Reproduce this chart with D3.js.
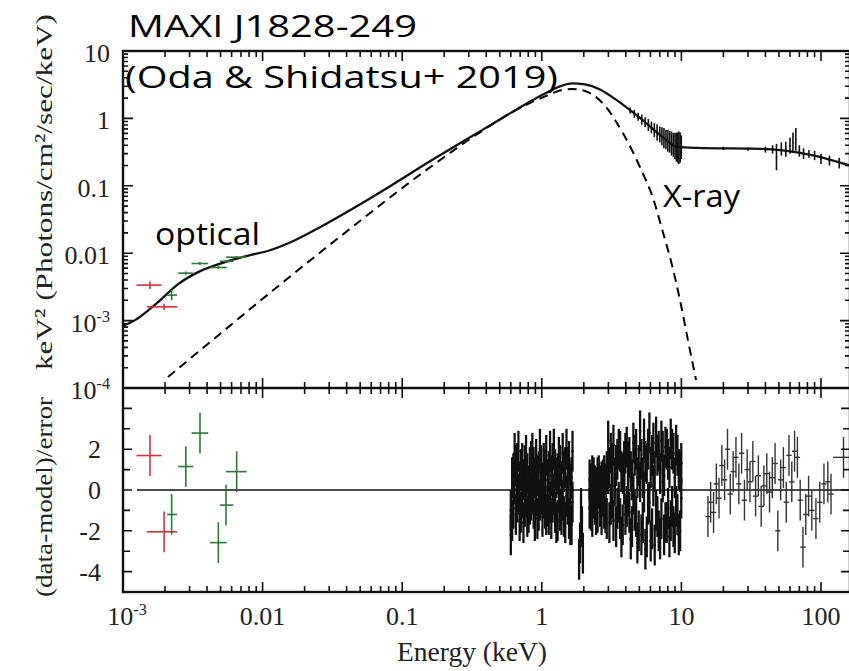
<!DOCTYPE html>
<html><head><meta charset="utf-8">
<script src="https://cdn.jsdelivr.net/npm/d3@7"></script>
<style>body{margin:0;background:#fff}#wrap{position:relative;width:849px;height:671px}svg{display:block;position:absolute;left:0;top:0}</style>
</head><body>
<div id="wrap"><svg id="c" width="849" height="671"></svg><svg id="ov" width="849" height="671"></svg></div>
<script>
// ---------------- DATA ----------------
const modelE = [1.000e-3,1.219e-3,1.782e-3,2.483e-3,3.451e-3,5.383e-3,8.128e-3,0.01130,0.01706,0.02576,0.04227,0.08185,0.1581,0.3062,0.5012,0.7586,1.054,1.349,1.644,2.037,2.612,3.459,5.309,7.379,9.290,12.94,38.46,87.70,158.9];
const modelF = [8.30e-4,1.016e-3,1.879e-3,3.475e-3,5.236e-3,7.362e-3,9.333e-3,0.01107,0.01560,0.02427,0.04335,0.09840,0.2307,0.5236,0.9661,1.611,2.344,2.979,3.304,3.192,2.692,1.849,0.9333,0.5236,0.3784,0.3656,0.3532,0.2831,0.2014];
const diskE = [2.099e-3,0.03581,0.1581,0.3606,0.6982,1.054,1.349,1.644,2.037,2.742,3.819,5.047,6.266,7.379,8.570,9.772,11.14,12.74];
const diskF = [1.455e-4,0.01754,0.1879,0.6209,1.432,2.118,2.600,2.735,2.553,1.667,0.5998,0.1901,0.06531,0.02046,6.637e-3,2.014e-3,5.140e-4,1.315e-4];
const redE = [1.56e-3,1.97e-3];
const redElo = [1.25e-3,1.48e-3];
const redEhi = [1.89e-3,2.45e-3];
const redF = [3.36e-3,1.60e-3];
const redFlo = [2.95e-3,1.44e-3];
const redFhi = [3.80e-3,1.78e-3];
const redRes = [1.69,-2.05];
const grnE = [2.23e-3,2.82e-3,3.56e-3,4.82e-3,5.47e-3,6.52e-3];
const grnElo = [2.07e-3,2.48e-3,3.10e-3,4.20e-3,4.95e-3,5.47e-3];
const grnEhi = [2.44e-3,3.19e-3,4.08e-3,5.53e-3,6.17e-3,7.69e-3];
const grnF = [2.39e-3,5.06e-3,7.03e-3,6.14e-3,7.60e-3,8.73e-3];
const grnFlo = [2.0e-3,4.8e-3,6.7e-3,5.85e-3,7.3e-3,8.4e-3];
const grnFhi = [2.85e-3,5.35e-3,7.4e-3,6.45e-3,7.9e-3,9.1e-3];
const grnRes = [-1.2,1.15,2.79,-2.58,-0.74,0.9];
const hxE  = [4.3,4.6,4.9,5.2,5.5,5.8,6.1,6.4,6.7,7.0,7.25,7.5,7.75,8.0,8.25,8.5,8.75,9.0,9.2,9.4,9.6,9.8,9.98,20,30,40,45,48,52,56,60,63,66,70,75,82,90,100,115,135];
const hxLo = [1.18,1.02,0.92,0.81,0.74,0.65,0.60,0.53,0.47,0.44,0.40,0.36,0.35,0.32,0.31,0.28,0.27,0.25,0.23,0.22,0.21,0.22,0.25,0.34,0.33,0.31,0.30,0.17,0.28,0.27,0.30,0.31,0.33,0.27,0.25,0.26,0.24,0.21,0.20,0.18];
const hxHi = [1.45,1.34,1.21,1.14,1.04,0.98,0.90,0.85,0.82,0.76,0.74,0.72,0.68,0.68,0.65,0.64,0.61,0.61,0.61,0.62,0.64,0.62,0.56,0.38,0.37,0.38,0.40,0.42,0.44,0.45,0.52,0.62,0.72,0.40,0.36,0.34,0.33,0.30,0.28,0.26];
const s1E = [0.600,0.613,0.626,0.639,0.652,0.666,0.680,0.694,0.709,0.724,0.739,0.755,0.771,0.787,0.804,0.821,0.838,0.856,0.874,0.892,0.911,0.930,0.950,0.970,0.990,1.011,1.032,1.054,1.076,1.099,1.122,1.146,1.170,1.195,1.220,1.246,1.272,1.299,1.326,1.354,1.383,1.412,1.442,1.472,1.503,1.535,1.567,1.600,1.634,1.660];
const s1A = [-2.2,-1.5,0.8,1.8,1.2,-0.6,1.9,0.4,-1.1,1.3,0.5,-0.8,1.7,-1.3,0.2,1.1,-0.5,1.8,-0.9,0.6,1.5,-1.4,0.9,2.0,-0.2,0.3,1.3,-0.9,1.7,0.5,-1.2,1.9,0.7,-0.6,2.0,1.0,-1.6,0.8,1.6,-1.0,0.4,1.8,-1.3,1.1,2.0,-0.7,1.4,-1.7,0.6,1.9];
const s1B = [-1.0,0.6,-0.9,0.3,-1.2,1.3,-0.2,-1.5,1.0,-0.4,-1.6,1.2,-0.3,0.8,-1.1,-0.7,1.4,-0.2,1.1,-1.5,-0.3,0.7,-1.0,-0.5,1.2,-1.3,-0.4,1.0,-1.2,-0.8,0.9,-0.6,-1.4,1.3,-0.2,-1.1,0.6,-1.5,-0.1,1.2,-1.2,-0.5,0.9,-1.6,-0.3,1.1,-1.4,0.3,-1.7,-0.6];
const s2E = [1.85,1.88,1.91,1.94,1.97];
const s2R = [-3.4,-2.6,-0.9,-1.8,-3.1];
const s3E = [2.20,2.25,2.30,2.35,2.40,2.45,2.51,2.56,2.62,2.68,2.74,2.80,2.86,2.92,2.99,3.05,3.12,3.19,3.26,3.33,3.41,3.48,3.56,3.64,3.72,3.80,3.89,3.97,4.06,4.15,4.24,4.34,4.43,4.53,4.63,4.74,4.84,4.95,5.06,5.17,5.29,5.40,5.52,5.65,5.77,5.90,6.03,6.17,6.30,6.44,6.59,6.73,6.88,7.04,7.19,7.35,7.52,7.69,7.86,8.03,8.21,8.39,8.58,8.77,8.97,9.17,9.37,9.58,9.79,9.98];
const s3A = [0.5,-1.0,0.7,-0.4,0.2,-1.2,0.6,0.1,-0.8,0.4,-0.3,0.7,-1.1,0.9,2.4,-1.6,1.8,-0.4,2.2,0.6,-1.8,1.5,-0.6,1.9,-2.3,0.8,1.4,-1.2,2.1,-0.3,1.6,-2.4,0.5,2.3,-1.0,2.0,-2.6,1.2,2.9,-2.2,0.6,2.5,-2.9,1.3,-0.7,2.8,-2.5,1.7,0.2,-2.7,2.6,-1.3,1.9,-2.4,2.4,0.4,-2.2,2.1,-1.6,1.5,-2.3,2.5,-0.8,1.8,-2.1,2.2,-1.2,1.0,-2.0,1.3];
const s3B = [-0.9,0.3,-1.3,0.6,-0.7,0.1,-1.1,0.7,0.2,-1.2,0.5,-0.9,0.3,-1.4,0.8,1.1,-0.7,1.3,-1.5,0.2,1.2,-0.9,2.0,-1.4,0.9,-1.7,0.3,1.8,-0.8,1.4,-1.1,0.9,-1.8,-0.2,1.7,-1.3,0.6,-2.0,0.4,1.5,-1.6,-0.1,1.4,-2.3,2.0,-0.6,1.1,-1.9,2.3,0.9,-1.0,1.7,-2.0,0.8,-1.4,1.9,0.7,-1.6,2.0,-0.9,1.1,-1.5,2.0,-1.8,0.6,-0.8,1.7,-2.2,0.9,-0.4];
const hE = [15.5,16.2,17.0,17.8,18.6,19.5,20.4,21.4,22.4,23.5,24.6,25.8,27.0,28.3,29.6,31.0,32.5,34.0,35.6,37.3,39.0,40.9,42.8,44.8,46.9,49.1,51.4,53.8,56.4,59.0,61.8,64.7,67.8,71.0,74.3,77.8,81.5,86.0,92.0,98.0,105,112,118];
const hR = [-1.3,-0.6,-1.1,0.3,-0.4,1.2,0.5,2.0,-0.2,0.9,1.6,0.3,1.8,-0.5,1.0,0.4,1.4,-0.3,0.7,-0.8,0.2,0.8,-0.1,0.6,1.3,-2.0,0.5,1.1,-0.6,1.7,0.4,1.9,1.6,-0.5,-2.8,-1.2,-0.3,-1.0,-1.4,-0.6,0.3,0.4,-0.2];
const lastE = [145], lastElo = [122], lastEhi = [178], lastR = [1.6];
const xTickVals = [1e-3,0.01,0.1,1,10,100];
const xTickText = [["10","-3"],["0.01"],["0.1"],["1"],["10"],["100"]];
const yTickVals = [10,1,0.1,0.01,1e-3,1e-4];
const yTickText = [["10"],["1"],["0.1"],["0.01"],["10","-3"],["10","-4"]];
const rTickVals = [2,0,-2,-4];
const rTickAll = [-4,-3,-2,-1,0,1,2,3,4];

// ---------------- LAYOUT ----------------
const X0=123, X1=850, YT=51, YM=388, YB=592;
const RED="#d8323a", GRN="#2d7a35", INK="#111";
const svg = d3.select("#c");
const ov = d3.select("#ov");
const x = d3.scaleLog().domain([1e-3, 161.4]).range([X0, X1]);
const yT = d3.scaleLog().domain([1e-4, 10]).range([YM, YT]);
const yR = d3.scaleLinear().domain([-5, 5]).range([YB, YM]);

const defs = svg.append("defs");
defs.append("clipPath").attr("id","cpT").append("rect").attr("x",X0).attr("y",YT).attr("width",X1-X0).attr("height",YM-YT);
defs.append("clipPath").attr("id","cpB").append("rect").attr("x",X0).attr("y",YM).attr("width",X1-X0).attr("height",YB-YM);
const gT = svg.append("g").attr("clip-path","url(#cpT)");
const gB = svg.append("g").attr("clip-path","url(#cpB)");

function crosses(g, rows, color, sw) {
  const s = g.append("g").attr("stroke", color).attr("stroke-width", sw).attr("fill","none");
  rows.forEach(r => {
    s.append("line").attr("x1", r.x1).attr("x2", r.x2).attr("y1", r.y).attr("y2", r.y);
    s.append("line").attr("x1", r.x).attr("x2", r.x).attr("y1", r.y1).attr("y2", r.y2);
  });
}

// ---- top panel ----
const lineGen = d3.line().x(d=>x(d[0])).y(d=>yT(d[1])).curve(d3.curveMonotoneX);
crosses(gT, hxE.map((e,i)=>({x:x(e), x1:x(e/1.012), x2:x(e*1.012), y:yT(Math.sqrt(hxLo[i]*hxHi[i])), y1:yT(hxLo[i]), y2:yT(hxHi[i])})), INK, 1.6);
gT.append("path").datum(diskE.map((e,i)=>[e,diskF[i]])).attr("d",lineGen)
  .attr("fill","none").attr("stroke","#000").attr("stroke-width",2).attr("stroke-dasharray","9,6");
gT.append("path").datum(modelE.map((e,i)=>[e,modelF[i]])).attr("d",lineGen)
  .attr("fill","none").attr("stroke",INK).attr("stroke-width",2.3);
crosses(gT, redE.map((e,i)=>({x:x(e),x1:x(redElo[i]),x2:x(redEhi[i]),y:yT(redF[i]),y1:yT(redFlo[i]),y2:yT(redFhi[i])})), RED, 1.6);
crosses(gT, grnE.map((e,i)=>({x:x(e),x1:x(grnElo[i]),x2:x(grnEhi[i]),y:yT(grnF[i]),y1:yT(grnFlo[i]),y2:yT(grnFhi[i])})), GRN, 1.6);

// ---- bottom panel ----
gB.append("line").attr("x1",x(1.26e-3)).attr("x2",X1).attr("y1",yR(0)).attr("y2",yR(0)).attr("stroke",INK).attr("stroke-width",1.5);
function resRows(E, R, f) {
  return E.map((e,i)=>({x:x(e), x1:x(e/f), x2:x(e*f), y:yR(R[i]), y1:yR(R[i]-1), y2:yR(R[i]+1)}));
}
crosses(gB, resRows(s1E, s1A, 1.02), INK, 2.3);
crosses(gB, resRows(s1E, s1B, 1.02), INK, 2.3);
crosses(gB, resRows(s2E, s2R, 1.01), INK, 2.3);
crosses(gB, resRows(s3E, s3A, 1.02), INK, 2.3);
crosses(gB, resRows(s3E, s3B, 1.02), INK, 2.3);
crosses(gB, resRows(hE, hR, 1.045), "#333", 1.4);
crosses(gB, lastE.map((e,i)=>({x:x(e),x1:x(lastElo[i]),x2:x(lastEhi[i]),y:yR(lastR[i]),y1:yR(lastR[i]-1),y2:yR(lastR[i]+1)})), "#333", 1.4);
crosses(gB, redE.map((e,i)=>({x:x(e),x1:x(redElo[i]),x2:x(redEhi[i]),y:yR(redRes[i]),y1:yR(redRes[i]-1),y2:yR(redRes[i]+1)})), RED, 1.6);
crosses(gB, grnE.map((e,i)=>({x:x(e),x1:x(grnElo[i]),x2:x(grnEhi[i]),y:yR(grnRes[i]),y1:yR(grnRes[i]-1),y2:yR(grnRes[i]+1)})), GRN, 1.6);

// ---- frame + ticks on an overlay svg ----
ov.append("rect").attr("x",X0).attr("y",YT).attr("width",X1-X0).attr("height",YB-YT).attr("fill","none").attr("stroke",INK).attr("stroke-width",2.4);
ov.append("line").attr("x1",X0).attr("x2",X1).attr("y1",YM).attr("y2",YM).attr("stroke",INK).attr("stroke-width",2.4);
const tp = d3.path();
for (let d = -3; d <= 2; d++) {
  for (let m = 1; m <= 9; m++) {
    const v = m * Math.pow(10, d);
    if (v > 161.4) continue;
    const px = x(v), len = (m === 1) ? 10 : 6;
    tp.moveTo(px, YT); tp.lineTo(px, YT + len);
    tp.moveTo(px, YM - len); tp.lineTo(px, YM + len);
    tp.moveTo(px, YB); tp.lineTo(px, YB - len);
  }
}
for (let d = -4; d <= 1; d++) {
  for (let m = 1; m <= 9; m++) {
    const v = m * Math.pow(10, d);
    if (v > 10.0001) continue;
    const py = yT(v), len = (m === 1) ? 10 : 5;
    tp.moveTo(X0, py); tp.lineTo(X0 + len, py);
    tp.moveTo(X1, py); tp.lineTo(X1 - len, py);
  }
}
rTickAll.forEach(v => {
  const py = yR(v), len = (v % 2 === 0) ? 9 : 7;
  tp.moveTo(X0, py); tp.lineTo(X0 + len, py);
  tp.moveTo(X1, py); tp.lineTo(X1 - len, py);
});
ov.append("path").attr("d", tp.toString()).attr("stroke", INK).attr("stroke-width", 1.6).attr("fill", "none");

// ---- tick labels ----
const SERIF = "'Liberation Serif','Times New Roman',serif";
function supLabel(g, parts, fs) {
  g.append("tspan").text(parts[0]);
  if (parts[1]) g.append("tspan").text(parts[1]).attr("font-size", fs*0.62).attr("dy", -fs*0.38);
}
xTickVals.forEach((v,i)=>{
  const t = svg.append("text").attr("x", x(v)+(xTickText[i][1]?4:0)).attr("y", 625).attr("text-anchor","middle")
    .attr("font-family",SERIF).attr("font-size",26).attr("fill","#222");
  supLabel(t, xTickText[i], 26);
});
yTickVals.forEach((v,i)=>{
  const t = svg.append("text").attr("x", 110).attr("y", yT(v)+11).attr("text-anchor","end")
    .attr("font-family",SERIF).attr("font-size",26).attr("fill","#222");
  supLabel(t, yTickText[i], 26);
});
rTickVals.forEach(v=>{
  svg.append("text").attr("x", 101).attr("y", yR(v)+9).attr("text-anchor","end")
    .attr("font-family",SERIF).attr("font-size",26).attr("fill","#222").text(v);
});

// axis titles
svg.append("text").attr("x",472).attr("y",661).attr("text-anchor","middle").attr("font-family",SERIF)
  .attr("font-size",27).attr("fill","#222").attr("textLength",150).attr("lengthAdjust","spacingAndGlyphs").text("Energy (keV)");
svg.append("text").attr("transform","translate(52,192) rotate(-90)").attr("text-anchor","middle").attr("font-family",SERIF)
  .attr("font-size",24).attr("fill","#222").attr("textLength",356).attr("lengthAdjust","spacingAndGlyphs").text("keV² (Photons/cm²/sec/keV)");
svg.append("text").attr("transform","translate(52,497) rotate(-90)").attr("text-anchor","middle").attr("font-family",SERIF)
  .attr("font-size",24).attr("fill","#222").attr("textLength",200).attr("lengthAdjust","spacingAndGlyphs").text("(data-model)/error");

// annotations
const SANS = "'Open Sans','Noto Sans',sans-serif";
function ann(txt, xx, yy, len) {
  svg.append("text").attr("x",xx).attr("y",yy).attr("font-family",SANS).attr("font-size",31).attr("fill","#000")
    .attr("textLength",len).attr("lengthAdjust","spacingAndGlyphs").text(txt);
}
ann("MAXI J1828-249", 128, 37, 289);
ann("(Oda & Shidatsu+ 2019)", 125, 88, 433);
ann("optical", 155, 245, 105);
ann("X-ray", 663, 207, 77);
</script>
</body></html>
